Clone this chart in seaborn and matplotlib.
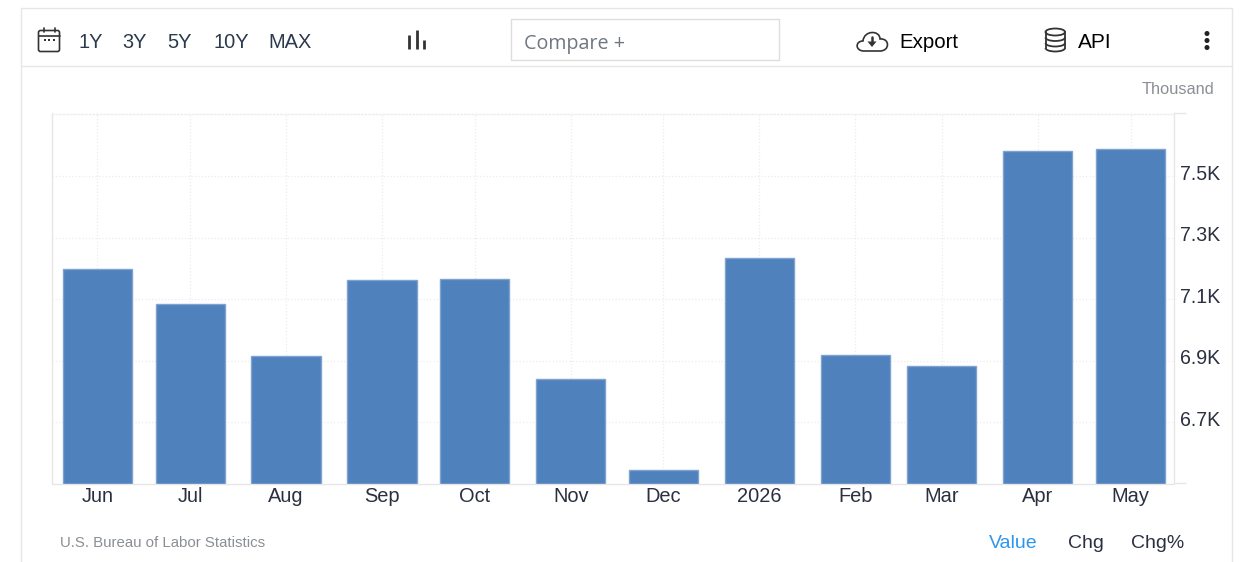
import numpy as np
import pandas as pd
import seaborn as sns
import matplotlib.pyplot as plt
import matplotlib.dates as mdates
from matplotlib.patches import Rectangle, FancyBboxPatch, Ellipse, Arc, PathPatch
from matplotlib.path import Path
from matplotlib.transforms import ScaledTranslation

months = ['2025-06-01', '2025-07-01', '2025-08-01', '2025-09-01', '2025-10-01', '2025-11-01',
          '2025-12-01', '2026-01-01', '2026-02-01', '2026-03-01', '2026-04-01', '2026-05-01']
month_labels = ['Jun', 'Jul', 'Aug', 'Sep', 'Oct', 'Nov', 'Dec', '2026', 'Feb', 'Mar', 'Apr', 'May']
values = [7.198, 7.085, 6.916, 7.163, 7.166, 6.841, 6.545, 7.235, 6.919, 6.883, 7.582, 7.589]
y_ticks = [6.7, 6.9, 7.1, 7.3, 7.5]
y_labels = ['6.7K', '6.9K', '7.1K', '7.3K', '7.5K']
ranges = ['1Y', '3Y', '5Y', '10Y', 'MAX']
range_pos = [92, 136, 181, 232, 291.5]

W, H = 1247, 562
sns.set_theme(style='white')
plt.rcParams['font.family'] = ['Liberation Sans', 'DejaVu Sans']

fig = plt.figure(figsize=(W / 100, H / 100), dpi=100)

# overlay in pixel coords for the page furniture
bg = fig.add_axes([0, 0, 1, 1])
bg.set_xlim(1, W + 1)
bg.set_ylim(H + 1, 1)
bg.axis('off')

line = '#e6e6e6'
bg.plot([21.5, 21.5], [8.5, H + 1], color=line, lw=1)
bg.plot([1232.5, 1232.5], [8.5, H + 1], color=line, lw=1)
bg.plot([21.5, 1232.5], [8.5, 8.5], color=line, lw=1)
bg.plot([21.5, 1232.5], [66.5, 66.5], color=line, lw=1)
bg.add_patch(Rectangle((511.5, 19.5), 268, 41, fc='white', ec='#dddddd', lw=1))

ink = '#333333'
# calendar
bg.add_patch(FancyBboxPatch((39.5, 31.5), 21, 21, boxstyle='round,pad=0,rounding_size=2', fc='none', ec=ink, lw=1.2))
bg.plot([39.5, 60.5], [36.5, 36.5], color=ink, lw=1.2)
bg.plot([44.5, 44.5], [28.5, 32.5], color=ink, lw=1.2)
bg.plot([55.5, 55.5], [28.5, 32.5], color=ink, lw=1.2)
for x in [45.5, 50, 54.5]:
    bg.add_patch(Rectangle((x - 1, 40), 2, 2, fc=ink, ec='none'))
# bar chart icon
for x, top in zip([410, 417.5, 424.5], [36, 31, 41]):
    bg.plot([x, x], [top, 50], color=ink, lw=2, solid_capstyle='butt')
# cloud
cloud = Path([(865, 52), (856, 52), (856, 42), (864, 42), (865, 31), (881, 31), (881, 40),
              (891, 39), (891, 52), (881, 52), (865, 52)],
             [Path.MOVETO, Path.CURVE4, Path.CURVE4, Path.CURVE4, Path.CURVE4, Path.CURVE4, Path.CURVE4,
              Path.CURVE4, Path.CURVE4, Path.CURVE4, Path.LINETO])
bg.add_patch(PathPatch(cloud, fc='none', ec=ink, lw=1.2))
bg.plot([873, 873], [38, 44], color=ink, lw=1.8)
bg.fill([868.5, 877.5, 873], [42.5, 42.5, 48], color=ink, lw=0)
# database
bg.plot([1046.5, 1046.5], [33, 49], color=ink, lw=1.3)
bg.plot([1066, 1066], [33, 49], color=ink, lw=1.3)
bg.add_patch(Ellipse((1056.25, 33), 19.5, 7, fc='none', ec=ink, lw=1.3))
for y in [38.5, 44, 49]:
    bg.add_patch(Arc((1056.25, y), 19.5, 7, theta1=0, theta2=180, ec=ink, lw=1.3))
# dots
for y in [34.5, 41.5, 48.5]:
    bg.add_patch(Ellipse((1208, y), 5, 5, fc='#222222', ec='none'))

for label, x in zip(ranges, range_pos):
    bg.text(x, 44, label, fontsize=14.4, color='#2b3a4d', ha='center', va='center')
bg.text(525, 45, 'Compare +', fontsize=14.2, color='#6f7780', ha='left', va='center', family='Open Sans')
bg.text(900, 44, 'Export', fontsize=14.7, color='black', ha='left', va='center')
bg.text(1079, 44, 'API', fontsize=15, color='black', ha='left', va='center')
bg.text(1215, 91, 'Thousand', fontsize=11.8, color='#8a8f96', ha='right', va='center')
bg.text(61, 544, 'U.S. Bureau of Labor Statistics', fontsize=10.8, color='#8a8f96', ha='left', va='center')
bg.text(1014, 544, 'Value', fontsize=14, color='#2d96f0', ha='center', va='center')
bg.text(1087, 544, 'Chg', fontsize=14, color='#2b3040', ha='center', va='center')
bg.text(1159, 544, 'Chg%', fontsize=14, color='#2b3040', ha='center', va='center')

# chart area
ax = fig.add_axes([52 / W, 1 - 483.5 / H, (1173.5 - 52) / W, (483.5 - 113.5) / H])
ax.patch.set_alpha(0)

df = pd.DataFrame({'date': mdates.date2num(pd.to_datetime(months)), 'value': values})
sns.barplot(data=df, x='date', y='value', native_scale=True, width=0.8, color='#4f81bd',
            saturation=1, edgecolor='#7fa3d1', linewidth=1, ax=ax)

ax.set_xlim(df['date'].iloc[0] - 14.7, df['date'].iloc[-1] + 13.9)
ax.set_ylim(6.5, 7.705)
ax.set_xlabel('')
ax.set_ylabel('')
ax.set_xticks(df['date'])
ax.set_xticklabels(month_labels, fontsize=14.4, color='#2b3040')
ax.yaxis.tick_right()
ax.set_yticks(y_ticks)
ax.set_yticklabels(y_labels, fontsize=14.1, color='#2b3040')
ax.set_yticks([6.5, 7.705], minor=True)
ax.tick_params(axis='x', length=0, pad=2.3)
ax.tick_params(axis='y', which='major', length=0, pad=5)
ax.tick_params(axis='y', which='minor', length=8.6, width=1, color=line, right=True, left=False)

ax.set_axisbelow(True)
ax.grid(True, which='major', color='#ececec', linestyle=':', linewidth=0.9)
sns.despine(ax=ax, top=False, right=False)
for name, spine in ax.spines.items():
    spine.set_color(line if name in ('bottom', 'right') else '#ececec')
    spine.set_linewidth(1)
ax.spines['top'].set_linestyle(':')
ax.spines['left'].set_color(line)

# y labels sit a little above their gridlines
shift = ScaledTranslation(0, 4 / 100, fig.dpi_scale_trans)
for lab in ax.get_yticklabels():
    lab.set_transform(lab.get_transform() + shift)

fig.savefig('out.png', dpi=100)
